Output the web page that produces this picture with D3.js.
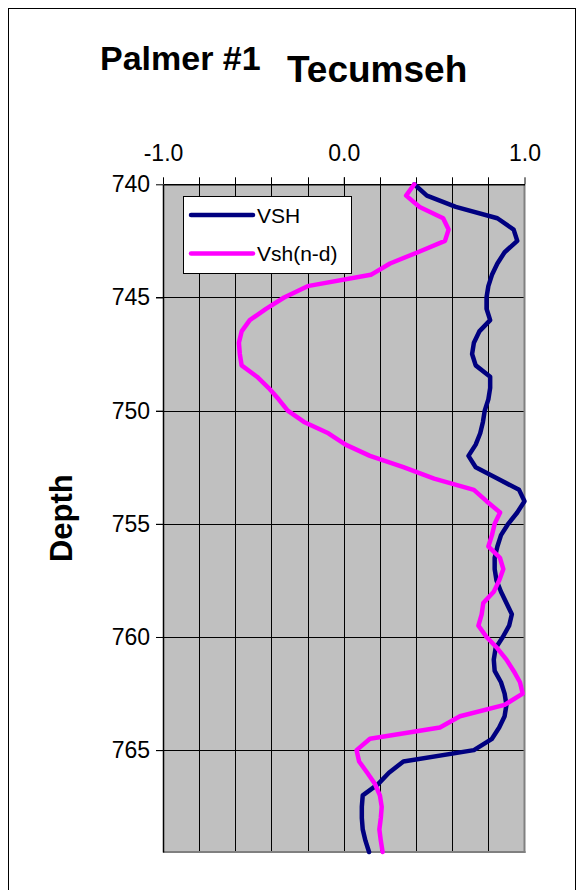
<!DOCTYPE html>
<html>
<head>
<meta charset="utf-8">
<script src="https://cdn.jsdelivr.net/npm/d3@7"></script>
<style>
html,body{margin:0;padding:0;background:#fff;}
svg{display:block;font-family:"Liberation Sans",Arial,sans-serif;}
</style>
</head>
<body>
<svg id="chart" width="583" height="890"></svg>
<script>
const depths = [740,740.5,741,741.5,742,742.5,743,743.5,744,744.5,
  745,745.5,746,746.5,747,747.5,748,748.5,749,749.5,
  750,750.5,751,751.5,752,752.5,753,753.5,754,754.5,
  755,755.5,756,756.5,757,757.5,758,758.5,759,759.5,
  760,760.5,761,761.5,762,762.5,763,763.5,764,764.5,
  765,765.5,766,766.5,767,767.5,768,768.5,769,769.5];
const vsh = [0.39,0.46,0.62,0.85,0.94,0.96,0.89,0.85,0.82,0.80,
  0.79,0.79,0.81,0.75,0.72,0.71,0.73,0.81,0.81,0.80,
  0.78,0.77,0.755,0.73,0.69,0.73,0.85,0.97,1.00,0.96,
  0.91,0.87,0.85,0.835,0.835,0.845,0.87,0.90,0.93,0.915,
  0.88,0.84,0.83,0.835,0.87,0.89,0.90,0.89,0.86,0.82,
  0.72,0.33,0.25,0.19,0.105,0.10,0.10,0.105,0.12,0.14];
const vshND = [0.39,0.345,0.42,0.55,0.58,0.56,0.41,0.256,0.15,-0.20,
  -0.33,-0.43,-0.52,-0.565,-0.58,-0.575,-0.565,-0.48,-0.415,-0.36,
  -0.31,-0.22,-0.085,0.01,0.145,0.33,0.50,0.72,0.79,0.865,
  0.835,0.82,0.80,0.864,0.883,0.86,0.83,0.772,0.763,0.745,
  0.79,0.85,0.90,0.94,0.975,0.99,0.89,0.643,0.532,0.145,
  0.071,0.085,0.13,0.173,0.20,0.21,0.205,0.197,0.205,0.215];
const seriesNames = ["VSH","Vsh(n-d)"];
const seriesColors = ["#000080","#FF00FF"];
const xTickLabels = [-1.0, 0.0, 1.0];
const yTickLabels = [740,745,750,755,760,765];
const titleLeft = "Palmer #1";
const titleRight = "Tecumseh";
const yTitle = "Depth";

const svg = d3.select("#chart");
const L = 163, R = 524.5, T = 184.3, B = 852;
const x = d3.scaleLinear().domain([-1,1]).range([L,R]);
const y = d3.scaleLinear().domain([740,769.5]).range([T,B]);

// outer border
svg.append("rect").attr("x",8.5).attr("y",8.5).attr("width",567).attr("height",900)
  .attr("fill","none").attr("stroke","#000").attr("stroke-width",1);

// plot background
svg.append("rect").attr("x",L).attr("y",T).attr("width",R-L).attr("height",B-T)
  .attr("fill","#C0C0C0");

// vertical gridlines every 0.2
const minorX = d3.range(-0.8, 1.0, 0.2);
svg.append("g").selectAll("line").data(minorX).join("line")
  .attr("x1",d=>Math.round(x(d))+0.5).attr("x2",d=>Math.round(x(d))+0.5)
  .attr("y1",T-7).attr("y2",B)
  .attr("stroke","#000").attr("stroke-width",1);
// horizontal gridlines
svg.append("g").selectAll("line").data(yTickLabels.slice(1)).join("line")
  .attr("x1",L-7).attr("x2",R)
  .attr("y1",d=>Math.round(y(d))+0.5).attr("y2",d=>Math.round(y(d))+0.5)
  .attr("stroke","#000").attr("stroke-width",1);

// plot border right/bottom gray
svg.append("line").attr("x1",R).attr("x2",R).attr("y1",T).attr("y2",B+1)
  .attr("stroke","#808080").attr("stroke-width",2);
svg.append("line").attr("x1",L).attr("x2",R+1).attr("y1",B).attr("y2",B)
  .attr("stroke","#808080").attr("stroke-width",2);

// top axis
const xAxis = d3.axisTop(x).tickValues(xTickLabels).tickFormat(d3.format(".1f")).tickSize(7).tickSizeOuter(0);
const gx = svg.append("g").attr("transform",`translate(0,${T})`).call(xAxis);
gx.select(".domain").attr("stroke","#000").attr("stroke-width",1.5);
gx.selectAll(".tick line").attr("stroke","#000");
gx.selectAll(".tick text").attr("font-size",23).attr("fill","#000")
  .attr("font-family","Liberation Sans, Arial, sans-serif").attr("dy",-13)
  .text(d=>d3.format(".1f")(d).replace("−","-"));

// left axis
const yAxis = d3.axisLeft(y).tickValues(yTickLabels).tickSize(7).tickSizeOuter(0);
const gy = svg.append("g").attr("transform",`translate(${L},0)`).call(yAxis);
gy.select(".domain").attr("stroke","#000").attr("stroke-width",1.5);
gy.selectAll(".tick line").attr("stroke","#000");
gy.selectAll(".tick text").attr("font-size",23).attr("fill","#000")
  .attr("font-family","Liberation Sans, Arial, sans-serif").attr("x",-13);

// lines
const seriesData = [vsh, vshND];
const line = d3.line().x(d=>x(d[1])).y(d=>y(d[0]));
seriesData.forEach((vals,i)=>{
  svg.append("path").datum(depths.map((d,j)=>[d,vals[j]]))
    .attr("d",line).attr("fill","none")
    .attr("stroke",seriesColors[i]).attr("stroke-width",4.5)
    .attr("stroke-linejoin","round").attr("stroke-linecap","round");
});

// legend
const lg = svg.append("g");
lg.append("rect").attr("x",183.5).attr("y",196.5).attr("width",168).attr("height",77)
  .attr("fill","#fff").attr("stroke","#000").attr("stroke-width",1);
seriesNames.forEach((n,i)=>{
  const yy = 215 + i*38.5;
  lg.append("line").attr("x1",191).attr("x2",253).attr("y1",yy).attr("y2",yy)
    .attr("stroke",seriesColors[i]).attr("stroke-width",4.5).attr("stroke-linecap","round");
  lg.append("text").attr("x",257).attr("y",yy+7.5).attr("font-size",21).attr("fill","#000").text(n);
});

// titles
svg.append("text").attr("x",100).attr("y",70).attr("font-size",34).attr("font-weight","bold").text(titleLeft);
svg.append("text").attr("x",287).attr("y",82).attr("font-size",37).attr("font-weight","bold").text(titleRight);
svg.append("text").attr("transform",`translate(72,${(T+B)/2}) rotate(-90)`)
  .attr("text-anchor","middle").attr("font-size",31).attr("font-weight","bold").text(yTitle);
</script>
</body>
</html>
